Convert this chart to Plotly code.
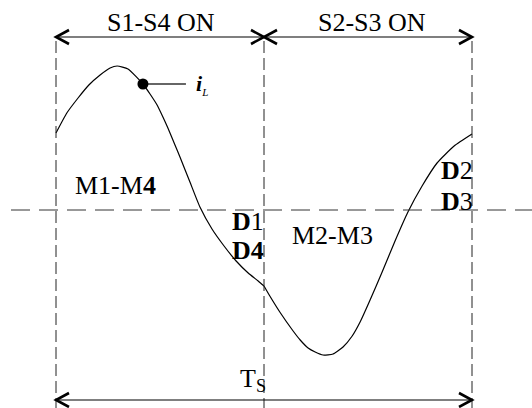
import plotly.graph_objects as go

# Inductor current over one switching period (time normalised to Ts = 1)
t_norm = [0.000, 0.026, 0.053, 0.079, 0.106, 0.130, 0.147, 0.173, 0.209,
          0.226, 0.243, 0.257, 0.269, 0.286, 0.298, 0.322, 0.346, 0.375,
          0.404, 0.433, 0.462, 0.486, 0.500, 0.514, 0.538, 0.570, 0.587,
          0.606, 0.623, 0.642, 0.666, 0.690, 0.712, 0.731, 0.755, 0.784,
          0.815, 0.846, 0.880, 0.916, 0.957, 1.000]
i_norm = [0.77, 0.97, 1.12, 1.25, 1.35, 1.42, 1.44, 1.41, 1.26,
          1.16, 1.05, 0.93, 0.82, 0.65, 0.53, 0.28, 0.03, -0.19,
          -0.36, -0.51, -0.63, -0.71, -0.76, -0.86, -1.02, -1.21, -1.30,
          -1.38, -1.42, -1.45, -1.44, -1.37, -1.26, -1.12, -0.90, -0.62,
          -0.31, -0.02, 0.24, 0.47, 0.64, 0.76]

switch_times = [0.0, 0.5, 1.0]          # S1-S4 on, S2-S3 on, end of period
interval_labels = ["S1-S4 ON", "S2-S3 ON"]
marker_index = 8                         # sample carrying the i_L marker

FONT = "Liberation Serif"

# pixel helpers: 416 px per unit time, 100 px per unit current
PX_T = 416.0
PX_I = 100.0
X0_PX = 56.0
Y0_PX = 210.0


def tx(px):
    return (px - X0_PX) / PX_T


def iy(py):
    return (Y0_PX - py) / PX_I


fig = go.Figure()

# current waveform, split at the commutation instant
k = t_norm.index(switch_times[1])
for lo, hi in [(0, k + 1), (k, len(t_norm))]:
    fig.add_trace(go.Scatter(
        x=t_norm[lo:hi], y=i_norm[lo:hi], mode="lines",
        line=dict(color="black", width=1.2, shape="spline", smoothing=0.5),
        hoverinfo="skip"))

# marker on the waveform with a leader line
mx, my = t_norm[marker_index], i_norm[marker_index]
fig.add_trace(go.Scatter(
    x=[mx, mx + 43 / PX_T], y=[my, my], mode="lines",
    line=dict(color="#666666", width=2), hoverinfo="skip"))
fig.add_trace(go.Scatter(
    x=[mx], y=[my], mode="markers",
    marker=dict(color="black", size=11), hoverinfo="skip"))

shapes = []
# vertical dashed boundaries
for ts in switch_times:
    shapes.append(dict(type="line", xref="x", yref="y",
                       x0=ts, x1=ts, y0=iy(41), y1=iy(410),
                       line=dict(color="#222222", width=1, dash="12px,5px")))
# zero line
shapes.append(dict(type="line", xref="x", yref="y",
                   x0=tx(11), x1=tx(540), y0=0, y1=0,
                   line=dict(color="#333333", width=1, dash="19px,9px")))


def arrow(xa, xb, ypx):
    """Double-headed arrow with open chevron heads between xa and xb."""
    y = iy(ypx)
    out = [dict(type="line", xref="x", yref="y", x0=xa, x1=xb, y0=y, y1=y,
                line=dict(color="black", width=1.2))]
    L, H = 13 / PX_T, 7 / PX_I
    for xe, d in [(xa, 1), (xb, -1)]:
        path = (f"M {xe + d * L},{y + H} L {xe},{y} L {xe + d * L},{y - H}")
        out.append(dict(type="path", xref="x", yref="y", path=path,
                        line=dict(color="black", width=2.6)))
    return out


shapes += arrow(switch_times[0], switch_times[1], 37)
shapes += arrow(switch_times[1], switch_times[2], 37)
shapes += arrow(switch_times[0], switch_times[2], 400)

annotations = []


def label(text, xpx, ypx, xanchor="center", size=26):
    annotations.append(dict(text=text, x=tx(xpx), y=iy(ypx), xref="x",
                            yref="y", showarrow=False, xanchor=xanchor,
                            yanchor="middle",
                            font=dict(family=FONT, size=size, color="black")))


label(interval_labels[0], 161, 22)
label(interval_labels[1], 372, 22)
label("M1-M<b>4</b>", 115, 185)
label("<b>D</b>1", 266, 221, xanchor="right")
label("<b>D4</b>", 266, 250, xanchor="right")
label("M2-M3", 332, 235)
label("<b>D</b>2", 475, 170, xanchor="right")
label("<b>D</b>3", 475, 201, xanchor="right")
label("T<sub>S</sub>", 253, 380)
label("<b><i>i</i></b><sub><i><span style='font-size:11px'>L</span></i></sub>",
      194, 84, xanchor="left", size=22)

fig.update_layout(
    width=532, height=408,
    margin=dict(l=0, r=0, t=0, b=0),
    paper_bgcolor="white", plot_bgcolor="white",
    showlegend=False,
    shapes=shapes, annotations=annotations,
    xaxis=dict(range=[tx(0), tx(532)], visible=False, fixedrange=True),
    yaxis=dict(range=[iy(408), iy(0)], visible=False, fixedrange=True),
)

fig.write_html("out.html")
